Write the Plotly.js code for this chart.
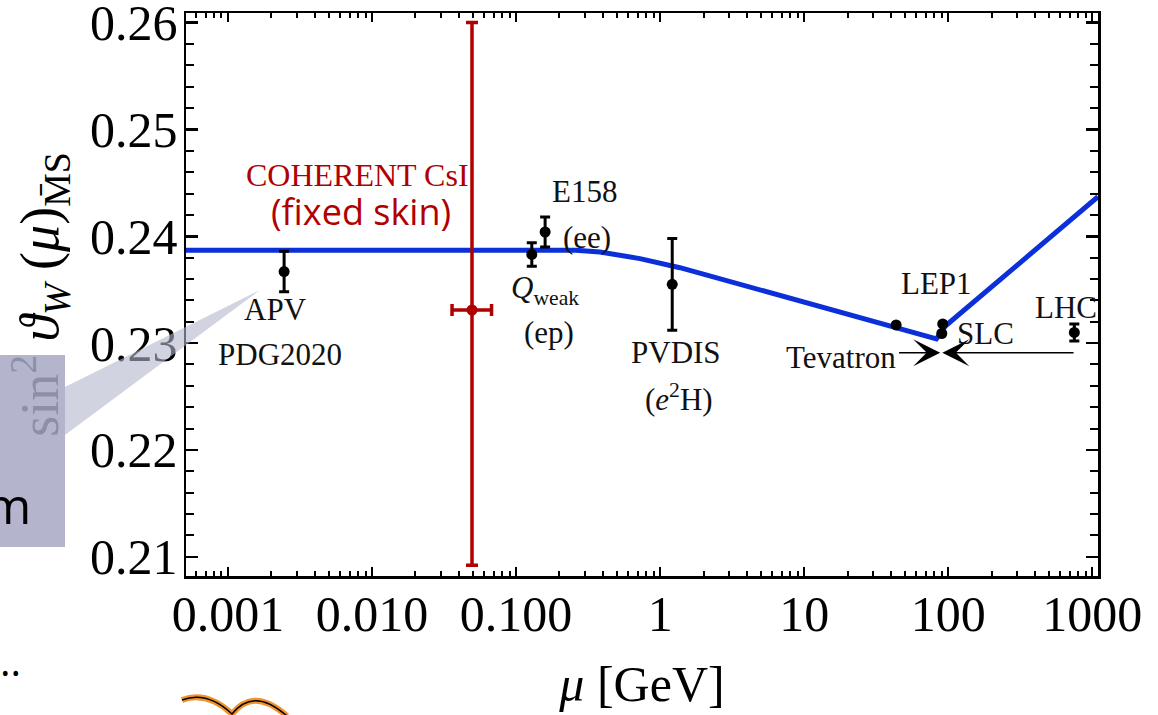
<!DOCTYPE html>
<html><head><meta charset="utf-8">
<script src="https://cdn.plot.ly/plotly-3.0.1.min.js"></script>
<style>html,body{margin:0;padding:0;background:#fff;overflow:hidden}#chart{width:1158px;height:715px}</style>
</head><body><div id="chart"></div>
<script>
// Standard Model running of sin^2 theta_W (MS-bar)
const smMu = [0.0005, 0.26, 0.382, 0.724, 1.373, 2.606, 43.7, 82.8, 95.5, 1096];
const smS2 = [0.2387, 0.2387, 0.23852, 0.23791, 0.23706, 0.23603, 0.2314, 0.2304, 0.2316, 0.2437];

// Experimental determinations (black)
const expNames = ['APV', 'Qweak', 'E158', 'PVDIS', 'Tevatron', 'LEP1', 'SLC', 'LHC'];
const expMu    = [0.00245, 0.1285, 0.159, 1.213, 43.5, 91.6, 90.2, 751];
const expS2    = [0.2367, 0.2383, 0.2404, 0.2355, 0.2317, 0.2318, 0.2309, 0.2310];
const expErr   = [0.0019, 0.0011, 0.0014, 0.0043, NaN, NaN, NaN, 0.0008];

// COHERENT CsI (fixed skin)
const cohMu = [0.0494];
const cohS2 = [0.2331];
const cohErrUp = [0.0269];
const cohErrDown = [0.0239];
const cohMuErrPlus = [0.0181];
const cohMuErrMinus = [0.0135];

// Arrows towards the Z pole
const arrowFromMu = [44.5, 760];
const arrowToMu = [88, 91];
const arrowS2 = [0.2291, 0.2291];

// Axis ticks
const xTickVals = [0.001, 0.01, 0.1, 1, 10, 100, 1000];
const xTickText = ['0.001', '0.010', '0.100', '1', '10', '100', '1000'];
const yTickVals = [0.21, 0.22, 0.23, 0.24, 0.25, 0.26];
const yTickText = ['0.21', '0.22', '0.23', '0.24', '0.25', '0.26'];

const SERIF = 'Liberation Serif, Times New Roman, serif';
const SANS = 'Open Sans, Noto Sans, sans-serif';
const RED = '#b00000';
const BLUE = '#0b2fd8';

const traces = [
  {x: smMu, y: smS2, mode: 'lines', line: {color: BLUE, width: 5}, hoverinfo: 'skip'},
  {x: expMu, y: expS2, text: expNames, mode: 'markers',
   marker: {color: 'black', size: 11},
   error_y: {type: 'data', array: expErr, color: 'black', thickness: 3, width: 5}},
  {x: cohMu, y: cohS2, mode: 'markers', marker: {color: RED, size: 11},
   error_y: {type: 'data', symmetric: false, array: cohErrUp, arrayminus: cohErrDown, color: RED, thickness: 3.5, width: 6},
   error_x: {type: 'data', symmetric: false, array: cohMuErrPlus, arrayminus: cohMuErrMinus, color: RED, thickness: 3.5, width: 6}}
];

// decoration helpers (slide overlay outside chart), pixel -> paper
const L = 186, T = 13, W = 912, H = 563;
const px = x => (x - L) / W;
const py = y => (T + H - y) / H;
function path(pts, close) {
  return pts.map((p, i) => (i ? 'L' : 'M') + px(p[0]).toFixed(4) + ',' + py(p[1]).toFixed(4)).join(' ') + (close ? ' Z' : '');
}
function curve(str) {
  return str.replace(/(-?[\d.]+),(-?[\d.]+)/g, (m, a, b) => px(+a).toFixed(4) + ',' + py(+b).toFixed(4));
}

const shapes = [
  {type: 'rect', xref: 'paper', yref: 'paper', x0: px(-5), x1: px(65), y0: py(547), y1: py(355),
   fillcolor: '#b4b5cd', line: {width: 0}, layer: 'above'},
  {type: 'path', xref: 'paper', yref: 'paper', path: path([[65, 387], [260, 290], [65, 435]], true),
   fillcolor: '#b4b5cd', opacity: 0.6, line: {width: 0}, layer: 'above'},
  {type: 'path', xref: 'paper', yref: 'paper',
   path: curve('M182,700 C198,694 215,698 232,714 C245,698 262,694 287,716'),
   line: {color: '#f0922c', width: 6}, layer: 'above'},
  {type: 'path', xref: 'paper', yref: 'paper',
   path: curve('M182,700 C198,694 215,698 232,714 C245,698 262,694 287,716'),
   line: {color: 'black', width: 1.5}, layer: 'above'}
];

const lab = (x, y, text, extra) => Object.assign({x: x, y: y, xref: 'x', yref: 'y', text: text, showarrow: false,
  font: {family: SERIF, size: 31, color: '#111'}}, extra || {});

const annotations = [
  lab(-2.098, 0.24575, 'COHERENT CsI', {font: {family: SERIF, size: 32, color: RED}}),
  lab(-2.076, 0.2423, '(fixed skin)', {font: {family: SANS, size: 36, color: RED}}),
  lab(-0.528, 0.24422, 'E158'),
  lab(-0.509, 0.23988, '(ee)'),
  lab(-2.670, 0.23313, 'APV'),
  lab(-2.642, 0.22891, 'PDG2020'),
  lab(-0.801, 0.2350, '<i>Q</i><sub>weak</sub>'),
  lab(-0.773, 0.23097, '(ep)'),
  lab(0.110, 0.2291, 'PVDIS'),
  lab(0.131, 0.22488, '(<i>e</i><sup>2</sup>H)'),
  lab(1.917, 0.23557, 'LEP1'),
  lab(2.257, 0.23088, 'SLC'),
  lab(1.256, 0.22863, 'Tevatron'),
  lab(2.820, 0.23332, 'LHC'),
  {xref: 'paper', yref: 'paper', x: px(33), y: py(505), xanchor: 'right', yanchor: 'middle', text: 'm',
   showarrow: false, font: {family: SANS, size: 50, color: 'black'}},
  {xref: 'paper', yref: 'paper', x: px(23), y: py(660), xanchor: 'right', yanchor: 'middle', text: '..',
   showarrow: false, font: {family: SANS, size: 40, color: 'black'}}
];
for (let i = 0; i < arrowFromMu.length; i++) {
  annotations.push({x: Math.log10(arrowToMu[i]), y: arrowS2[i], ax: Math.log10(arrowFromMu[i]), ay: arrowS2[i],
    xref: 'x', yref: 'y', axref: 'x', ayref: 'y', text: '', showarrow: true,
    arrowhead: 3, arrowsize: 3, arrowwidth: 1.5, arrowcolor: 'black', standoff: 0, startstandoff: 0});
}

const axisCommon = {
  ticks: 'inside', tickwidth: 2.5, tickcolor: 'black', showline: true, linecolor: 'black', linewidth: 2.5,
  mirror: 'ticks', showgrid: false, zeroline: false, automargin: false, ticklabeloverflow: 'allow',
  tickfont: {family: SERIF, size: 50, color: 'black'}
};

const layout = {
  width: 1158, height: 715,
  margin: {l: L, r: 1158 - L - W, t: T, b: 715 - T - H, pad: 0},
  paper_bgcolor: 'white', plot_bgcolor: 'white', showlegend: false,
  font: {family: SERIF, color: 'black'},
  xaxis: Object.assign({}, axisCommon, {
    type: 'log', range: [-3.292, 3.04], tickmode: 'array', tickvals: xTickVals, ticktext: xTickText,
    ticklen: 9, ticklabelstandoff: -8,
    minor: {tickmode: 'linear', dtick: 'D1', ticks: 'inside', ticklen: 5, tickwidth: 2, tickcolor: 'black', showgrid: false},
    title: {text: '<i>μ</i> [GeV]', font: {family: SERIF, size: 50, color: 'black'}, standoff: 26}
  }),
  yaxis: Object.assign({}, axisCommon, {
    range: [0.2082, 0.2609], tickmode: 'array', tickvals: yTickVals, ticktext: yTickText,
    ticklen: 12, ticklabelstandoff: -4,
    minor: {tickmode: 'linear', tick0: 0.2, dtick: 0.002, ticks: 'inside', ticklen: 8, tickwidth: 2, tickcolor: 'black', showgrid: false},
    title: {text: '<span style="color:#8d8fa6">sin<sup>2</sup></span> <i>ϑ</i><sub><i>W</i></sub> (<i>μ</i>)<sub>M\u0304S</sub>',
            font: {family: SERIF, size: 54, color: 'black'}, standoff: 14}
  }),
  shapes: shapes,
  annotations: annotations
};

Plotly.newPlot('chart', traces, layout, {staticPlot: true, displayModeBar: false});
</script>
</body></html>
